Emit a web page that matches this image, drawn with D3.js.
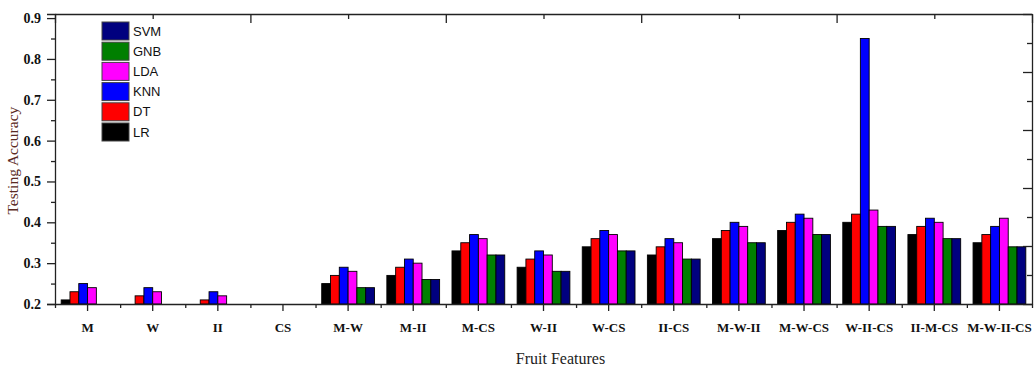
<!DOCTYPE html>
<meta charset="utf-8">
<head>
    <title>Testing accuracy by fruit features</title>
    <style>
        body { margin: 0; background: #fff; }
        .tick text { font-family: "Liberation Serif", serif; font-weight: bold; fill: #111; }
        .domain, .tick line { stroke: #222; stroke-width: 1.3; }
    </style>
</head>

<script src="https://d3js.org/d3.v7.min.js"></script>

<div id="dataVis"></div>

<script>

    // categories on the x axis
    var features = ["M", "W", "II", "CS", "M-W", "M-II", "M-CS", "W-II", "W-CS", "II-CS",
        "M-W-II", "M-W-CS", "W-II-CS", "II-M-CS", "M-W-II-CS"];

    // testing accuracy per classifier (0.2 = no visible bar)
    var LR  = [0.21, 0.20, 0.20, 0.20, 0.25, 0.27, 0.33, 0.29, 0.34, 0.32, 0.36, 0.38, 0.40, 0.37, 0.35];
    var DT  = [0.23, 0.22, 0.21, 0.20, 0.27, 0.29, 0.35, 0.31, 0.36, 0.34, 0.38, 0.40, 0.42, 0.39, 0.37];
    var KNN = [0.25, 0.24, 0.23, 0.20, 0.29, 0.31, 0.37, 0.33, 0.38, 0.36, 0.40, 0.42, 0.85, 0.41, 0.39];
    var LDA = [0.24, 0.23, 0.22, 0.20, 0.28, 0.30, 0.36, 0.32, 0.37, 0.35, 0.39, 0.41, 0.43, 0.40, 0.41];
    var GNB = [0.20, 0.20, 0.20, 0.20, 0.24, 0.26, 0.32, 0.28, 0.33, 0.31, 0.35, 0.37, 0.39, 0.36, 0.34];
    var SVM = [0.20, 0.20, 0.20, 0.20, 0.24, 0.26, 0.32, 0.28, 0.33, 0.31, 0.35, 0.37, 0.39, 0.36, 0.34];

    var yTicks = [0.2, 0.3, 0.4, 0.5, 0.6, 0.7, 0.8, 0.9];
    var yMinorTicks = [0.25, 0.35, 0.45, 0.55, 0.65, 0.75, 0.85];

    // bar order inside a group, legend order is the reverse
    var series = [
        { name: "LR", values: LR, color: "#000000" },
        { name: "DT", values: DT, color: "#ff0000" },
        { name: "KNN", values: KNN, color: "#0000ff" },
        { name: "LDA", values: LDA, color: "#ff00ff" },
        { name: "GNB", values: GNB, color: "#007f00" },
        { name: "SVM", values: SVM, color: "#00007f" }
    ];

    var W = 1035, H = 370;
    var margin = { top: 14, right: 3, bottom: 66, left: 55 },
        width = W - margin.left - margin.right,
        height = H - margin.top - margin.bottom;

    var svg = d3.select("#dataVis")
        .append("svg")
        .attr("width", W)
        .attr("height", H)
        .append("g")
        .attr("transform", "translate(" + margin.left + "," + margin.top + ")");

    // scales
    var x = d3.scaleBand()
        .domain(features)
        .range([0, width])
        .paddingInner(0.19)
        .paddingOuter(0.095);

    var x1 = d3.scaleBand()
        .domain(series.map(function (s) { return s.name; }))
        .range([0, x.bandwidth()]);

    var y = d3.scaleLinear()
        .domain([0.2, 0.91])
        .range([height, 0]);

    // bars
    var groups = svg.append("g")
        .selectAll("g")
        .data(features)
        .enter()
        .append("g")
        .attr("transform", function (d) { return "translate(" + x(d) + ",0)"; });

    groups.selectAll("rect")
        .data(function (d, i) {
            return series.map(function (s) { return { name: s.name, color: s.color, value: s.values[i] }; })
                .filter(function (b) { return b.value > 0.2; });
        })
        .enter()
        .append("rect")
        .attr("x", function (d) { return x1(d.name); })
        .attr("y", function (d) { return y(d.value); })
        .attr("width", x1.bandwidth())
        .attr("height", function (d) { return y(0.2) - y(d.value); })
        .attr("fill", function (d) { return d.color; })
        .attr("stroke", "#000")
        .attr("stroke-width", 0.9);

    // left axis
    svg.append("g")
        .call(d3.axisLeft(y).tickValues(yTicks).tickSize(8).tickFormat(d3.format(".1f")))
        .call(function (g) { g.selectAll("text").style("font-size", "14px").attr("dx", "-3"); });
    svg.append("g")
        .call(d3.axisLeft(y).tickValues(yMinorTicks).tickSize(4).tickFormat(""))
        .call(function (g) { g.select(".domain").remove(); });

    // bottom axis
    svg.append("g")
        .attr("transform", "translate(0," + height + ")")
        .call(d3.axisBottom(x).tickSize(7).tickSizeOuter(0))
        .call(function (g) { g.selectAll("text").style("font-size", "13px").attr("dy", "1.4em"); });
    var xEdges = d3.scaleLinear().domain([0, features.length]).range([0, width]);
    svg.append("g")
        .attr("transform", "translate(0," + height + ")")
        .call(d3.axisBottom(xEdges).ticks(features.length).tickSize(4).tickFormat(""))
        .call(function (g) { g.select(".domain").remove(); });

    // top frame with its own inward ticks
    var topScale = d3.scaleLinear().domain([0, 10]).range([0, width]);
    svg.append("g")
        .call(d3.axisTop(topScale).ticks(10).tickSizeOuter(0).tickSizeInner(0).tickFormat(""))
        .call(function (g) {
            g.selectAll(".tick line").attr("y2", function (d) { return d % 2 === 0 ? 9 : 5; });
        });

    // right frame with its own inward ticks
    var rightScale = d3.scaleLinear().domain([0, 10]).range([height, 0]);
    svg.append("g")
        .attr("transform", "translate(" + width + ",0)")
        .call(d3.axisRight(rightScale).ticks(10).tickSizeOuter(0).tickSizeInner(0).tickFormat(""))
        .call(function (g) {
            g.selectAll(".tick line").attr("x2", function (d) { return d % 2 === 0 ? -9 : -5; });
        });

    // axis titles
    svg.append("text")
        .attr("transform", "translate(" + (-37) + "," + (y(0.6) + 20) + ") rotate(-90)")
        .attr("text-anchor", "middle")
        .style("font-family", "Liberation Serif, serif")
        .style("font-size", "15.5px")
        .style("fill", "#5a2a22")
        .text("Testing Accuracy");

    svg.append("text")
        .attr("x", width / 2 + 17)
        .attr("y", height + 60)
        .attr("text-anchor", "middle")
        .style("font-family", "Liberation Serif, serif")
        .style("font-size", "16px")
        .style("fill", "#222")
        .text("Fruit Features");

    // legend
    var legend = svg.append("g")
        .attr("transform", "translate(47,8)")
        .selectAll("g")
        .data(series.slice().reverse())
        .enter()
        .append("g")
        .attr("transform", function (d, i) { return "translate(0," + (i * 20.2) + ")"; });

    legend.append("rect")
        .attr("width", 27)
        .attr("height", 18)
        .attr("fill", function (d) { return d.color; })
        .attr("stroke", "#444")
        .attr("stroke-width", 1);

    legend.append("text")
        .attr("x", 31)
        .attr("y", 9)
        .attr("dy", "0.36em")
        .style("font-family", "Liberation Sans, Arial, sans-serif")
        .style("font-size", "13px")
        .style("fill", "#111")
        .text(function (d) { return d.name; });

</script>
